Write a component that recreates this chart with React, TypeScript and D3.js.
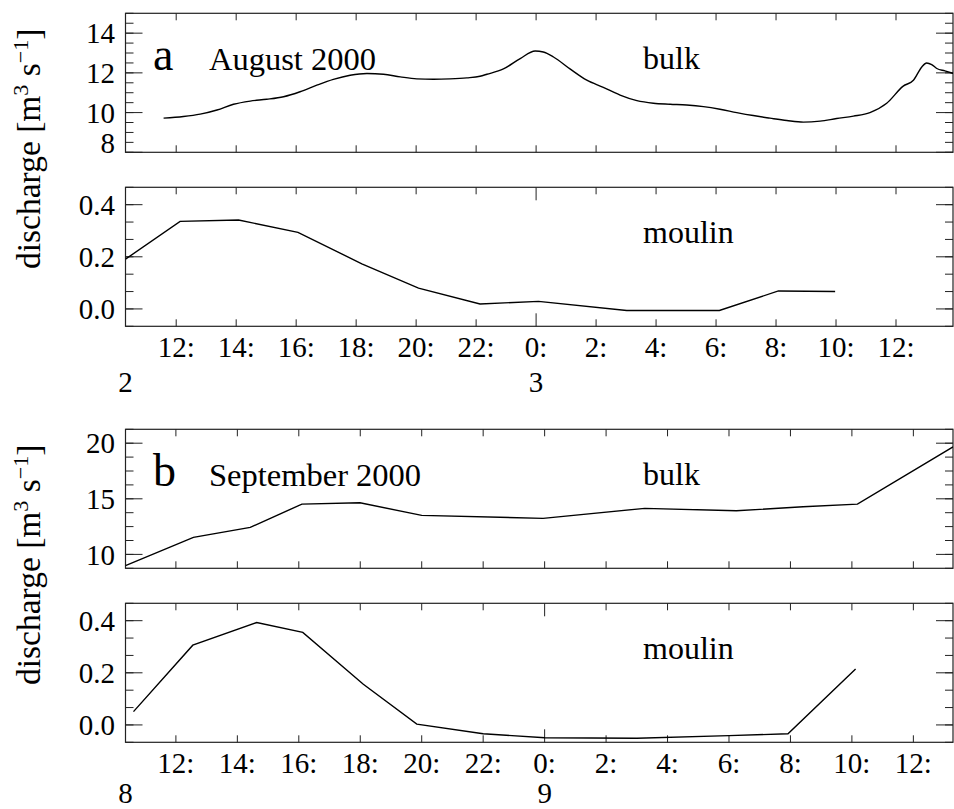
import React from "react";
import * as d3 from "d3";

// ---- August 2000 (days 2–3) ----
const augDays = ["2", "3"];
const augBulkHours = [11.58, 12.24, 12.8, 13.36, 13.91, 14.47, 15.02, 15.58, 16.13, 16.69, 17.24, 17.8, 18.36, 18.91, 19.47, 20.02, 20.58, 21.13, 21.69, 22.13, 22.36, 22.91, 23.47, 23.97, 24.24, 24.58, 25.13, 25.69, 26.24, 26.8, 27.36, 27.91, 28.47, 29.02, 29.58, 30.13, 30.69, 31.24, 31.8, 32.36, 32.91, 33.47, 34.02, 34.58, 35.13, 35.69, 36.24, 36.58, 36.86, 37.02, 37.19, 37.36, 37.63, 37.91];
const augBulkValues = [9.72, 9.8, 9.92, 10.13, 10.42, 10.58, 10.67, 10.8, 11.05, 11.38, 11.67, 11.88, 11.97, 11.93, 11.8, 11.7, 11.68, 11.7, 11.75, 11.83, 11.93, 12.2, 12.72, 13.1, 13.05, 12.8, 12.2, 11.63, 11.27, 10.88, 10.6, 10.47, 10.42, 10.38, 10.3, 10.17, 10.0, 9.85, 9.72, 9.6, 9.52, 9.57, 9.7, 9.82, 10.0, 10.47, 11.33, 11.63, 12.3, 12.5, 12.42, 12.22, 12.1, 11.97];
const augMoulinHours = [10.31, 12.13, 14.08, 16.06, 18.19, 20.08, 22.13, 24.08, 27.02, 30.11, 32.08, 33.97];
const augMoulinValues = [0.191, 0.336, 0.341, 0.294, 0.173, 0.08, 0.019, 0.029, -0.006, -0.006, 0.069, 0.067];

// ---- September 2000 (days 8–9) ----
const sepDays = ["8", "9"];
const sepBulkHours = [10.36, 12.57, 14.42, 16.1, 17.99, 20.0, 23.95, 27.26, 30.24, 32.41, 34.18, 37.29];
const sepBulkValues = [8.99, 11.53, 12.43, 14.52, 14.64, 13.51, 13.24, 14.14, 13.92, 14.28, 14.52, 19.67];
const sepMoulinHours = [10.62, 12.55, 14.63, 16.13, 18.1, 19.84, 22.0, 24.01, 27.0, 30.0, 31.92, 34.12];
const sepMoulinValues = [0.051, 0.306, 0.393, 0.355, 0.156, 0.003, -0.034, -0.049, -0.051, -0.041, -0.034, 0.215];

// hour ticks, every two hours from noon to noon next day
const hourTicks = [12, 14, 16, 18, 20, 22, 24, 26, 28, 30, 32, 34, 36];

const augBulkTicks = [8, 10, 12, 14];
const sepBulkTicks = [10, 15, 20];
const moulinTicks = [0, 0.2, 0.4];

const W = 954;
const H = 809;
const X0 = 125.5;
const X1 = 953;
const serif = { fontFamily: '"Liberation Serif", "Times New Roman", "DejaVu Serif", serif' };

type PanelProps = {
  id: string;
  top: number;
  bottom: number;
  x: d3.ScaleLinear<number, number>;
  yDomain: [number, number];
  majorY: number[];
  minorStep: number;
  yFormat: (v: number) => string;
  hours: number[];
  values: number[];
  smooth: boolean;
  longMidnight: boolean;
  label: string;
};

function Panel(p: PanelProps) {
  const y = d3.scaleLinear().domain(p.yDomain).range([p.bottom, p.top]);
  const pts: [number, number][] = p.hours.map((h, i) => [h, p.values[i]]);
  const line = d3
    .line<[number, number]>()
    .x((d) => p.x(d[0]))
    .y((d) => y(d[1]))
    .curve(p.smooth ? d3.curveMonotoneX : d3.curveLinear);

  const minors = d3.range(p.yDomain[0], p.yDomain[1] + 1e-6, p.minorStep);
  const axisColor = "#222";

  return (
    <g>
      <defs>
        <clipPath id={p.id}>
          <rect x={X0} y={p.top} width={X1 - X0} height={p.bottom - p.top} />
        </clipPath>
      </defs>
      {/* frame */}
      <rect x={X0} y={p.top} width={X1 - X0} height={p.bottom - p.top} fill="none" stroke={axisColor} strokeWidth={1.2} />
      {/* y minor ticks, both sides */}
      {minors.map((v, i) => (
        <g key={"m" + i}>
          <line x1={X0} x2={X0 + 8} y1={y(v)} y2={y(v)} stroke={axisColor} strokeWidth={1} />
          <line x1={X1} x2={X1 - 8} y1={y(v)} y2={y(v)} stroke={axisColor} strokeWidth={1} />
        </g>
      ))}
      {/* y major ticks and labels */}
      {p.majorY.map((v) => {
        const yy = y(v);
        const ly = Math.min(yy, p.bottom - 9.5);
        return (
          <g key={"M" + v}>
            <line x1={X0} x2={X0 + 17} y1={yy} y2={yy} stroke={axisColor} strokeWidth={1} />
            <line x1={X1} x2={X1 - 17} y1={yy} y2={yy} stroke={axisColor} strokeWidth={1} />
            <text x={115} y={ly} dy="0.35em" textAnchor="end" fontSize={29} style={serif}>
              {p.yFormat(v)}
            </text>
          </g>
        );
      })}
      {/* x ticks top and bottom */}
      {hourTicks.map((h) => {
        const xx = p.x(h);
        const len = p.longMidnight && h % 24 === 0 ? 13 : 7;
        return (
          <g key={"x" + h}>
            <line x1={xx} x2={xx} y1={p.bottom} y2={p.bottom - len} stroke={axisColor} strokeWidth={1} />
            <line x1={xx} x2={xx} y1={p.top} y2={p.top + len} stroke={axisColor} strokeWidth={1} />
          </g>
        );
      })}
      <path d={line(pts) ?? ""} fill="none" stroke="#000" strokeWidth={1.4} clipPath={`url(#${p.id})`} />
      <text x={643} y={p.top + 56} fontSize={32} style={serif}>
        {p.label}
      </text>
    </g>
  );
}

type FigureProps = {
  prefix: string;
  top: number;
  domain: [number, number];
  letter: string;
  title: string;
  days: string[];
  dayLabelOffset: number;
  bulkHours: number[];
  bulkValues: number[];
  bulkDomain: [number, number];
  bulkTicks: number[];
  bulkMinor: number;
  moulinHours: number[];
  moulinValues: number[];
  smoothBulk: boolean;
};

function Figure(f: FigureProps) {
  const x = d3.scaleLinear().domain(f.domain).range([X0, X1]);
  const bulkTop = f.top;
  const bulkBottom = f.top + 139;
  const mTop = f.top + 174;
  const mBottom = f.top + 313;
  const tickLabelY = mBottom + 31;
  const dayLabelY = mBottom + f.dayLabelOffset;
  const fmtHour = (h: number) => `${h % 24}:`;
  return (
    <g>
      <Panel
        id={f.prefix + "bulk"}
        top={bulkTop}
        bottom={bulkBottom}
        x={x}
        yDomain={f.bulkDomain}
        majorY={f.bulkTicks}
        minorStep={f.bulkMinor}
        yFormat={(v) => d3.format("d")(v)}
        hours={f.bulkHours}
        values={f.bulkValues}
        smooth={f.smoothBulk}
        longMidnight={false}
        label="bulk"
      />
      <Panel
        id={f.prefix + "moulin"}
        top={mTop}
        bottom={mBottom}
        x={x}
        yDomain={[-0.2 / 3, 0.4 + 0.2 / 3]}
        majorY={moulinTicks}
        minorStep={0.2 / 3}
        yFormat={(v) => d3.format(".1f")(v)}
        hours={f.moulinHours}
        values={f.moulinValues}
        smooth={false}
        longMidnight={true}
        label="moulin"
      />
      {/* panel letter and title */}
      <text x={153} y={bulkTop + 57} fontSize={46} style={serif}>
        {f.letter}
      </text>
      <text x={209} y={bulkTop + 57} fontSize={32.5} style={serif}>
        {f.title}
      </text>
      {/* hour labels */}
      {hourTicks.map((h) => (
        <text key={h} x={x(h)} y={tickLabelY} textAnchor="middle" fontSize={29} style={serif}>
          {fmtHour(h)}
        </text>
      ))}
      {/* day labels */}
      <text x={x(f.domain[0])} y={dayLabelY} textAnchor="middle" fontSize={29} style={serif}>
        {f.days[0]}
      </text>
      <text x={x(24)} y={dayLabelY} textAnchor="middle" fontSize={29} style={serif}>
        {f.days[1]}
      </text>
      {/* shared y-axis title */}
      <text
        transform={`translate(40, ${(bulkTop + mBottom) / 2 - 21}) rotate(-90)`}
        textAnchor="middle"
        fontSize={33.5}
        style={serif}
      >
        discharge [m
        <tspan fontSize={22} dy={-12}>3</tspan>
        <tspan dy={12}> s</tspan>
        <tspan fontSize={22} dy={-12}>−1</tspan>
        <tspan dy={12}>]</tspan>
      </text>
    </g>
  );
}

export default function App() {
  return (
    <svg
      width={W}
      height={H}
      viewBox={`0 0 ${W} ${H}`}
      style={{ position: "absolute", left: 0, top: 0, background: "#fff" }}
    >
      <rect width={W} height={H} fill="#fff" />
      <Figure
        prefix="aug"
        top={13.3}
        domain={[10.31, 37.9]}
        letter="a"
        title="August 2000"
        days={augDays}
        dayLabelOffset={66}
        bulkHours={augBulkHours}
        bulkValues={augBulkValues}
        bulkDomain={[8, 15]}
        bulkTicks={augBulkTicks}
        bulkMinor={0.5}
        moulinHours={augMoulinHours}
        moulinValues={augMoulinValues}
        smoothBulk={true}
      />
      <Figure
        prefix="sep"
        top={429.3}
        domain={[10.36, 37.29]}
        letter="b"
        title="September 2000"
        days={sepDays}
        dayLabelOffset={61}
        bulkHours={sepBulkHours}
        bulkValues={sepBulkValues}
        bulkDomain={[8.75, 21.25]}
        bulkTicks={sepBulkTicks}
        bulkMinor={1.25}
        moulinHours={sepMoulinHours}
        moulinValues={sepMoulinValues}
        smoothBulk={false}
      />
    </svg>
  );
}
